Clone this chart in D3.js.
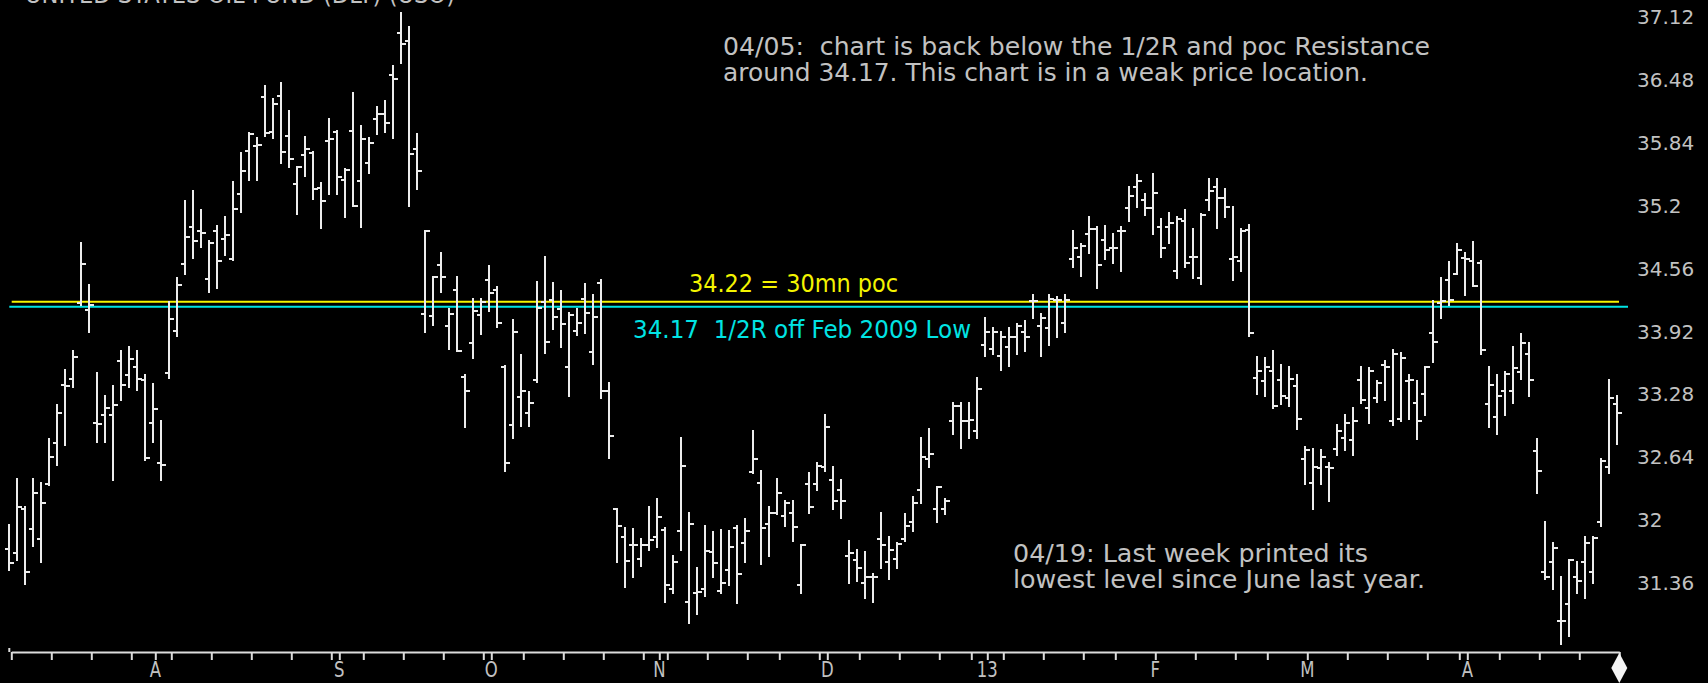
<!DOCTYPE html>
<html>
<head>
<meta charset="utf-8">
<script src="https://cdn.jsdelivr.net/npm/d3@7"></script>
<style>
  html, body { margin: 0; padding: 0; background: #000; overflow: hidden; }
  svg { display: block; }
</style>
</head>
<body>
<svg id="chart" width="1708" height="683"></svg>
<script>
// Daily trading sessions, Jul 2012 – Apr 2013
const dates = [
  "2012-07-06","2012-07-09","2012-07-10","2012-07-11","2012-07-12","2012-07-13","2012-07-16","2012-07-17","2012-07-18","2012-07-19",
  "2012-07-20","2012-07-23","2012-07-24","2012-07-25","2012-07-26","2012-07-27","2012-07-30","2012-07-31",
  "2012-08-01","2012-08-02","2012-08-03","2012-08-06","2012-08-07","2012-08-08","2012-08-09","2012-08-10","2012-08-13","2012-08-14",
  "2012-08-15","2012-08-16","2012-08-17","2012-08-20","2012-08-21","2012-08-22","2012-08-23","2012-08-24","2012-08-27","2012-08-28",
  "2012-08-29","2012-08-30","2012-08-31",
  "2012-09-04","2012-09-05","2012-09-06","2012-09-07","2012-09-10","2012-09-11","2012-09-12","2012-09-13","2012-09-14","2012-09-17",
  "2012-09-18","2012-09-19","2012-09-20","2012-09-21","2012-09-24","2012-09-25","2012-09-26","2012-09-27","2012-09-28",
  "2012-10-01","2012-10-02","2012-10-03","2012-10-04","2012-10-05","2012-10-08","2012-10-09","2012-10-10","2012-10-11","2012-10-12",
  "2012-10-15","2012-10-16","2012-10-17","2012-10-18","2012-10-19","2012-10-22","2012-10-23","2012-10-24","2012-10-25","2012-10-26",
  "2012-10-31",
  "2012-11-01","2012-11-02","2012-11-05","2012-11-06","2012-11-07","2012-11-08","2012-11-09","2012-11-12","2012-11-13","2012-11-14",
  "2012-11-15","2012-11-16","2012-11-19","2012-11-20","2012-11-21","2012-11-23","2012-11-26","2012-11-27","2012-11-28","2012-11-29",
  "2012-11-30",
  "2012-12-03","2012-12-04","2012-12-05","2012-12-06","2012-12-07","2012-12-10","2012-12-11","2012-12-12","2012-12-13","2012-12-14",
  "2012-12-17","2012-12-18","2012-12-19","2012-12-20","2012-12-21","2012-12-24","2012-12-26","2012-12-27","2012-12-28","2012-12-31",
  "2013-01-02","2013-01-03","2013-01-04","2013-01-07","2013-01-08","2013-01-09","2013-01-10","2013-01-11","2013-01-14","2013-01-15",
  "2013-01-16","2013-01-17","2013-01-18","2013-01-22","2013-01-23","2013-01-24","2013-01-25","2013-01-28","2013-01-29","2013-01-30",
  "2013-01-31",
  "2013-02-01","2013-02-04","2013-02-05","2013-02-06","2013-02-07","2013-02-08","2013-02-11","2013-02-12","2013-02-13","2013-02-14",
  "2013-02-15","2013-02-19","2013-02-20","2013-02-21","2013-02-22","2013-02-25","2013-02-26","2013-02-27","2013-02-28",
  "2013-03-01","2013-03-04","2013-03-05","2013-03-06","2013-03-07","2013-03-08","2013-03-11","2013-03-12","2013-03-13","2013-03-14",
  "2013-03-15","2013-03-18","2013-03-19","2013-03-20","2013-03-21","2013-03-22","2013-03-25","2013-03-26","2013-03-27","2013-03-28",
  "2013-04-01","2013-04-02","2013-04-03","2013-04-04","2013-04-05","2013-04-08","2013-04-09","2013-04-10","2013-04-11","2013-04-12",
  "2013-04-15","2013-04-16","2013-04-17","2013-04-18","2013-04-19","2013-04-22","2013-04-23","2013-04-24","2013-04-25","2013-04-26"
];

const opens = [
  31.71,31.66,32.11,31.91,31.81,32.37,32.78,33.37,33.44,34.21,
  34.14,32.99,33.07,33.07,33.62,33.48,33.56,33.43,32.99,32.58,
  33.50,33.92,34.61,34.98,34.94,34.45,34.94,34.86,34.66,35.32,
  35.75,35.81,36.30,35.95,36.31,35.91,35.42,35.71,35.73,35.38,
  35.86,35.95,35.46,35.96,35.45,35.63,36.08,36.13,36.53,36.96,
  36.87,35.78,34.10,34.08,34.60,33.97,34.34,33.46,33.80,34.09,
  34.44,34.34,33.56,32.97,33.25,33.09,33.42,34.22,34.24,34.15,
  33.56,33.92,34.25,33.71,34.41,33.31,32.11,31.83,31.75,31.60,
  31.75,31.83,31.90,31.30,31.89,31.17,31.26,31.30,31.68,31.28,
  31.49,31.92,31.77,32.49,32.38,31.96,32.07,32.04,32.07,31.34,
  32.37,32.37,32.54,32.41,32.31,31.63,31.59,31.36,31.42,31.81,
  31.57,31.60,31.81,31.98,32.31,32.62,32.11,32.11,33.01,33.16,
  33.01,32.91,33.78,33.74,33.67,33.76,33.86,33.91,34.23,33.97,
  33.95,34.24,34.01,34.66,34.68,34.91,34.96,34.85,34.77,34.94,
  35.17,35.39,35.26,35.17,34.98,34.98,34.53,35.04,34.68,34.46,
  35.26,35.39,35.28,34.66,34.64,34.95,33.45,33.41,33.52,33.43,
  33.24,33.36,32.62,32.38,32.53,32.54,32.72,32.83,32.81,33.43,
  33.14,33.24,33.58,33.01,33.03,33.41,33.19,33.28,33.90,34.21,
  34.44,34.50,34.67,34.64,34.62,33.18,33.05,33.31,33.31,33.51,
  33.69,32.70,31.47,31.57,30.97,31.15,31.42,31.57,31.47,31.98,
  32.54,33.18
];

const highs = [
  31.95,32.42,32.13,32.42,32.38,32.82,33.17,33.53,33.72,34.82,
  34.39,33.50,33.26,33.36,33.72,33.76,33.72,33.48,33.38,33.01,
  34.22,34.46,35.25,35.35,35.15,34.84,34.99,35.08,35.44,35.73,
  35.94,35.89,36.42,36.28,36.45,36.16,35.59,35.90,35.74,35.43,
  36.08,35.96,35.57,36.34,36.01,35.89,36.20,36.26,36.62,37.16,
  37.02,35.93,34.94,34.47,34.72,34.15,34.47,33.48,34.25,34.25,
  34.58,34.37,33.57,34.04,33.68,33.30,34.42,34.68,34.41,34.33,
  34.11,34.15,34.40,34.29,34.44,33.39,32.11,31.92,31.91,31.81,
  32.13,32.21,31.92,31.63,32.84,32.07,31.51,31.94,31.88,31.90,
  31.89,31.94,32.01,32.91,32.50,32.13,32.42,32.19,32.19,31.75,
  32.48,32.58,33.07,32.54,32.41,31.79,31.70,31.68,31.45,32.07,
  31.83,31.77,32.06,32.23,32.83,32.93,32.34,32.21,33.19,33.19,
  33.19,33.45,34.06,33.95,33.91,33.95,33.99,34.03,34.29,34.10,
  34.29,34.27,34.29,34.94,34.81,35.08,34.98,34.99,34.91,34.98,
  35.39,35.51,35.32,35.52,35.06,35.12,35.08,35.15,34.96,35.11,
  35.47,35.47,35.37,35.19,34.96,35.00,33.66,33.65,33.72,33.58,
  33.56,33.48,32.74,32.72,32.71,32.58,32.97,33.07,33.14,33.56,
  33.55,33.41,33.62,33.73,33.70,33.48,33.41,33.56,34.23,34.46,
  34.63,34.81,34.72,34.83,34.64,33.56,33.48,33.51,33.76,33.89,
  33.80,32.82,31.98,31.77,31.42,31.59,31.57,31.83,31.83,32.62,
  33.43,33.26
];

const lows = [
  31.49,31.59,31.35,31.74,31.57,32.36,32.56,32.76,33.35,34.19,
  33.91,32.79,32.79,32.41,33.22,33.35,33.32,32.61,32.79,32.41,
  33.45,33.87,34.50,34.67,34.78,34.32,34.36,34.70,34.65,35.13,
  35.46,35.46,35.91,35.89,35.63,35.59,35.11,35.50,35.27,34.97,
  35.32,35.32,35.08,35.20,34.98,35.53,35.93,35.95,35.89,36.65,
  35.20,35.37,33.91,33.98,34.32,33.74,33.72,32.95,33.65,33.89,
  34.13,33.96,32.50,32.84,32.96,32.96,33.40,33.70,33.94,33.76,
  33.26,33.88,33.90,33.59,33.24,32.63,31.57,31.32,31.42,31.53,
  31.70,31.73,31.17,31.26,31.70,30.95,31.04,31.23,31.42,31.26,
  31.34,31.16,31.57,32.48,31.55,31.63,32.06,31.94,31.79,31.26,
  32.07,32.31,32.50,32.11,32.02,31.36,31.38,31.21,31.17,31.51,
  31.40,31.51,31.79,31.89,32.17,32.54,31.98,32.06,32.88,32.73,
  32.84,32.84,33.67,33.69,33.53,33.57,33.69,33.72,34.06,33.67,
  33.78,33.86,33.91,34.57,34.48,34.72,34.36,34.66,34.62,34.53,
  35.04,35.19,35.10,34.91,34.68,34.82,34.46,34.57,34.46,34.40,
  35.15,34.97,35.08,34.44,34.53,33.87,33.28,33.26,33.14,33.18,
  33.16,32.93,32.37,32.11,32.37,32.19,32.66,32.71,32.66,33.19,
  32.99,33.20,33.22,32.97,33.01,33.03,32.82,33.07,33.61,34.06,
  34.19,34.50,34.29,34.38,33.69,32.95,32.88,33.07,33.19,33.44,
  33.26,32.28,31.40,31.30,30.74,30.82,31.26,31.21,31.36,31.94,
  32.48,32.77
];

const closes = [
  31.56,32.13,31.47,32.28,32.17,32.64,33.09,33.36,33.66,34.61,
  34.19,32.98,33.14,33.17,33.37,33.64,33.44,32.63,33.13,32.56,
  34.05,34.39,34.88,34.84,34.92,34.82,34.64,34.90,35.16,35.55,
  35.93,35.82,35.94,36.23,35.74,35.67,35.59,35.78,35.37,35.25,
  35.88,35.49,35.56,35.20,35.88,35.84,36.13,36.04,36.49,36.84,
  35.72,35.55,34.94,34.47,34.47,34.10,33.72,33.31,34.13,34.22,
  34.31,34.00,32.58,33.91,33.31,33.19,34.16,33.81,34.07,33.99,
  34.09,34.00,34.11,34.07,33.31,32.86,31.94,31.58,31.75,31.75,
  31.80,32.03,31.34,31.57,32.55,31.96,31.27,31.69,31.56,31.36,
  31.73,31.45,31.89,32.62,31.92,32.07,32.28,32.17,31.93,31.75,
  32.13,32.55,32.95,32.19,32.19,31.66,31.51,31.42,31.42,31.75,
  31.70,31.76,31.94,32.17,32.64,32.67,32.34,32.19,33.16,33.01,
  33.02,33.33,33.91,33.91,33.86,33.86,33.97,33.86,34.23,34.06,
  34.25,34.24,34.24,34.77,34.79,34.96,34.60,34.75,34.77,34.94,
  35.30,35.45,35.17,35.33,34.77,35.02,35.06,34.62,34.68,35.10,
  35.35,35.28,35.19,34.68,34.94,33.90,33.52,33.56,33.16,33.26,
  33.44,33.03,32.71,32.54,32.64,32.53,32.91,32.99,33.01,33.22,
  33.52,33.39,33.56,33.69,33.65,33.43,33.01,33.56,33.81,34.23,
  34.24,34.75,34.66,34.38,33.73,33.37,33.26,33.49,33.55,33.80,
  33.43,32.50,31.42,31.72,30.97,31.59,31.38,31.77,31.82,32.60,
  33.24,33.09
];

// Price axis labels (right side)
const priceTicks = [37.12, 36.48, 35.84, 35.2, 34.56, 33.92, 33.28, 32.64, 32, 31.36];
// Labels for the first session of each month after July
const monthLabels = ["A", "S", "O", "N", "D", "13", "F", "M", "A"];

// Horizontal reference levels
const pocLevel = 34.22;
const halfRLevel = 34.17;
const pocText = "34.22 = 30mn poc";
const halfRText = "34.17  1/2R off Feb 2009 Low";
const noteTop = [
  "04/05:  chart is back below the 1/2R and poc Resistance",
  "around 34.17. This chart is in a weak price location."
];
const noteBottom = [
  "04/19: Last week printed its",
  "lowest level since June last year."
];
const titleText = "UNITED STATES OIL FUND (DLY) (USO)";

// ---------------------------------------------------------------
const W = 1708, H = 683;
const FONT = "'DejaVu Sans', Verdana, sans-serif";
const BAR = "#ececec", GREY = "#c2c2c2", YELLOW = "#f4f400", CYAN = "#00e4e4";

const svg = d3.select("#chart");
svg.append("rect").attr("width", W).attr("height", H).attr("fill", "#000");

const x = d3.scalePoint().domain(dates).range([9.3, 1617.3]);
const y = d3.scaleLinear().domain([30.668, 37.291]).range([651, 0]);

const bars = dates.map((d, i) => ({ d, o: opens[i], h: highs[i], l: lows[i], c: closes[i] }));

// Title (runs off the top edge)
svg.append("text")
  .attr("x", 25).attr("y", 3)
  .attr("font-family", FONT).attr("font-size", 24)
  .attr("fill", GREY)
  .attr("textLength", 430).attr("lengthAdjust", "spacingAndGlyphs")
  .text(titleText);

// Reference levels
svg.append("line")
  .attr("x1", 11.7).attr("x2", 1619)
  .attr("y1", y(pocLevel)).attr("y2", y(pocLevel))
  .attr("stroke", YELLOW).attr("stroke-width", 2);
svg.append("line")
  .attr("x1", 9.3).attr("x2", 1628)
  .attr("y1", y(halfRLevel)).attr("y2", y(halfRLevel))
  .attr("stroke", CYAN).attr("stroke-width", 2);

// OHLC bars
const gBars = svg.append("g")
  .attr("stroke", BAR).attr("stroke-width", 2)
  .attr("shape-rendering", "crispEdges");

gBars.selectAll("line.hl").data(bars).join("line")
  .attr("class", "hl")
  .attr("x1", b => x(b.d)).attr("x2", b => x(b.d))
  .attr("y1", b => y(b.h) - 1).attr("y2", b => y(b.l) + 1);

gBars.selectAll("line.op").data(bars).join("line")
  .attr("class", "op")
  .attr("x1", b => x(b.d) - 4).attr("x2", b => x(b.d))
  .attr("y1", b => y(b.o)).attr("y2", b => y(b.o));

gBars.selectAll("line.cl").data(bars).join("line")
  .attr("class", "cl")
  .attr("x1", b => x(b.d)).attr("x2", b => x(b.d) + 5)
  .attr("y1", b => y(b.c)).attr("y2", b => y(b.c));

// Time axis: a tick at each week's last session and at each month's first session
const parse = d3.timeParse("%Y-%m-%d");
const weekKey = d => d3.timeWeek.floor(parse(d)).getTime();
const weekEnds = dates.filter((d, i) => i === dates.length - 1 || weekKey(d) !== weekKey(dates[i + 1]));
const monthStarts = dates.filter((d, i) => i > 0 && d.slice(0, 7) !== dates[i - 1].slice(0, 7));
const tickDates = Array.from(new Set(weekEnds.concat(monthStarts)));

const xAxis = d3.axisBottom(x)
  .tickValues(tickDates)
  .tickSize(8).tickSizeOuter(0)
  .tickFormat("");

const gAxis = svg.append("g")
  .attr("transform", "translate(2,652)")
  .call(xAxis);
gAxis.select(".domain").attr("stroke", "#dcdcdc").attr("stroke-width", 2);
gAxis.selectAll(".tick line").attr("stroke", "#dcdcdc").attr("stroke-width", 2);

svg.append("line")
  .attr("x1", 9.3).attr("x2", 9.3).attr("y1", 648).attr("y2", 652)
  .attr("stroke", "#dcdcdc").attr("stroke-width", 2);

svg.selectAll("text.month").data(monthStarts).join("text")
  .attr("class", "month")
  .attr("transform", d => `translate(${x(d) + 2},677) scale(0.75,1)`)
  .attr("text-anchor", "middle")
  .attr("font-family", FONT).attr("font-size", 22)
  .attr("fill", GREY)
  .text((d, i) => monthLabels[i]);

// Marker for the latest session
const lastX = x(dates[dates.length - 1]) + 2;
svg.append("polygon")
  .attr("points", [[lastX, 653], [lastX + 8, 668], [lastX, 683], [lastX - 8, 668]].map(p => p.join(",")).join(" "))
  .attr("fill", "#f4f4f4");

// Price labels
svg.selectAll("text.price").data(priceTicks).join("text")
  .attr("class", "price")
  .attr("x", 1637).attr("y", v => y(v))
  .attr("dy", "0.36em")
  .attr("font-family", FONT).attr("font-size", 20)
  .attr("fill", GREY)
  .text(v => String(v));

// Level captions
svg.append("text")
  .attr("x", 689).attr("y", 292)
  .attr("font-family", FONT).attr("font-size", 24)
  .attr("fill", YELLOW)
  .attr("textLength", 209).attr("lengthAdjust", "spacingAndGlyphs")
  .style("white-space", "pre")
  .text(pocText);
svg.append("text")
  .attr("x", 633).attr("y", 338)
  .attr("font-family", FONT).attr("font-size", 24)
  .attr("fill", CYAN)
  .attr("textLength", 338).attr("lengthAdjust", "spacingAndGlyphs")
  .style("white-space", "pre")
  .text(halfRText);

// Commentary
function note(lines, x0, baselines, widths) {
  lines.forEach((t, i) => {
    svg.append("text")
      .attr("x", x0).attr("y", baselines[i])
      .attr("font-family", FONT).attr("font-size", 25)
      .attr("fill", GREY)
      .attr("textLength", widths[i]).attr("lengthAdjust", "spacingAndGlyphs")
      .style("white-space", "pre")
      .text(t);
  });
}
note(noteTop, 723, [55, 81], [707, 645]);
note(noteBottom, 1013, [562, 588], [355, 412]);
</script>
</body>
</html>
